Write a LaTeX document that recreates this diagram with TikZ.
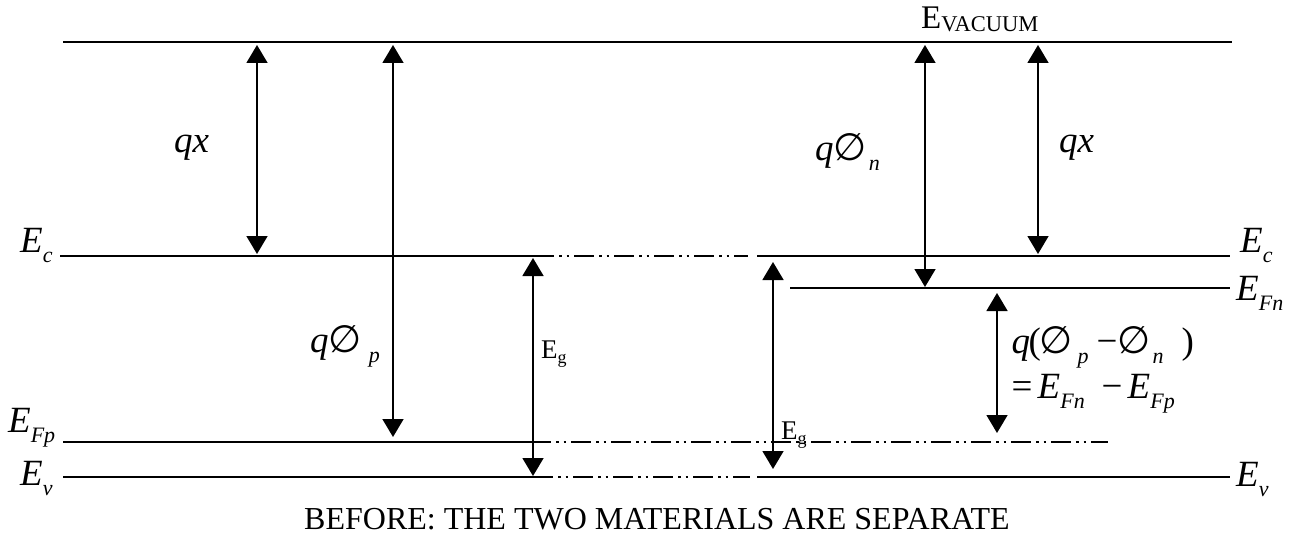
\documentclass[tikz,border=0pt]{standalone}
\usepackage{fontspec}
\setmainfont{Liberation Serif}
\newfontfamily\symf{DejaVu Sans}
\usetikzlibrary{arrows.meta}
\newcommand\mfi{\fontsize{37}{40}\selectfont\itshape}
\newcommand\mfu{\fontsize{37}{40}\selectfont\upshape}
\newcommand\sbfi{\fontsize{22}{24}\selectfont\itshape}
\newcommand\mysub[1]{\raisebox{-10pt}{\sbfi #1}}
\newcommand\myempty{{\symf\fontsize{38}{40}\selectfont ∅}}
\newcommand\El[1]{{\mfi E}\mysub{#1}}
\newcommand\at[2]{\rlap{\hspace{#1pt}#2}}
\newcommand\Eglab{\fontsize{27}{30}\selectfont E\raisebox{-5pt}{\fontsize{18}{20}\selectfont g}}
\begin{document}
\begin{tikzpicture}[x=1pt,y=-1pt,
  lvl/.style={line width=1.7pt},
  dd/.style={line width=1.7pt, dash pattern=on 20pt off 5pt on 2.5pt off 5pt on 2.5pt off 5pt},
  dbl/.style={line width=1.6pt, {Triangle[width=21pt,length=18pt]}-{Triangle[width=21pt,length=18pt]}},
  lab/.style={inner sep=0pt, anchor=base west}]
\useasboundingbox (0,0) rectangle (1293,535);
% level coordinates
\coordinate (vacL) at (63,42);   \coordinate (vacR) at (1232,42);
\coordinate (ecL) at (60,256);   \coordinate (ecM) at (534,256);
\coordinate (ecD) at (748,256);  \coordinate (ecS) at (757,256);
\coordinate (ecR) at (1230,256);
\coordinate (fnL) at (790,288);  \coordinate (fnR) at (1230,288);
\coordinate (fpL) at (63,442);   \coordinate (fpM) at (531,442);
\coordinate (fpD) at (1108,442);
\coordinate (evL) at (63,477);   \coordinate (evM) at (533,477);
\coordinate (evD) at (750,477);  \coordinate (evS) at (757,477);
\coordinate (evR) at (1230,477);
% levels
\draw[lvl] (vacL) -- (vacR);
\draw[lvl] (ecL) -- (ecM);
\draw[dd] (ecM) -- (ecD);
\draw[lvl] (ecS) -- (ecR);
\draw[lvl] (fnL) -- (fnR);
\draw[lvl] (fpL) -- (fpM);
\draw[dd] (fpM) -- (fpD);
\draw[lvl] (evL) -- (evM);
\draw[dd] (evM) -- (evD);
\draw[lvl] (evS) -- (evR);
% arrow coordinates
\coordinate (a1t) at (257,45);  \coordinate (a1b) at (257,254);
\coordinate (a2t) at (393,45);  \coordinate (a2b) at (393,437);
\coordinate (a3t) at (533,258); \coordinate (a3b) at (533,476);
\coordinate (a4t) at (773,262); \coordinate (a4b) at (773,469);
\coordinate (a5t) at (925,45);  \coordinate (a5b) at (925,287);
\coordinate (a6t) at (1038,45); \coordinate (a6b) at (1038,254);
\coordinate (a7t) at (997,293); \coordinate (a7b) at (997,433);
\draw[dbl] (a1t) -- (a1b);
\draw[dbl] (a2t) -- (a2b);
\draw[dbl] (a3t) -- (a3b);
\draw[dbl] (a4t) -- (a4b);
\draw[dbl] (a5t) -- (a5b);
\draw[dbl] (a6t) -- (a6b);
\draw[dbl] (a7t) -- (a7b);
% labels
\node[lab] (lec) at (20,252) {\El{c}};
\node[lab] (lfp) at (8,432) {\El{Fp}};
\node[lab] (lev) at (20,485) {\El{v}};
\node[lab] (rec) at (1240,252) {\El{c}};
\node[lab] (rfn) at (1236,300) {\El{Fn}};
\node[lab] (rev) at (1236,486) {\El{v}};
\node[lab] (qx1) at (174,152) {\mfi qx};
\node[lab] (qx2) at (1059,152) {\mfi qx};
\node[lab] (qpp) at (310,352) {{\mfi q}\myempty\hspace{7pt}\mysub{p}};
\node[lab] (qpn) at (815,160) {{\mfi q}\myempty\hspace{2pt}\mysub{n}};
\node[lab] (eg1) at (541,358) {\Eglab};
\node[lab] (eg2) at (781,439) {\Eglab};
\node[lab] (dq) at (1011,353) {\at{0}{\mfi q}\at{17}{\mfu (}\at{28}{\myempty}\at{66}{\mysub{p}}\at{85}{\mfu −}\at{106}{\myempty}\at{141}{\mysub{n}}\at{170}{\mfu )}\hspace{184pt}};
\node[lab] (de) at (1011,398) {\at{0}{\mfu =}\at{26}{\El{Fn}}\at{90}{\mfu −}\at{116}{\El{Fp}}\hspace{180pt}};
\node[lab] (vac) at (921,29) {\fontsize{33}{36}\selectfont E\raisebox{-3pt}{\fontsize{22.5}{26}\selectfont VACUUM}};
\node[inner sep=0pt, anchor=base] (cap) at (657,529) {\fontsize{32}{36}\selectfont BEFORE: THE TWO MATERIALS ARE SEPARATE};
\end{tikzpicture}
\end{document}
